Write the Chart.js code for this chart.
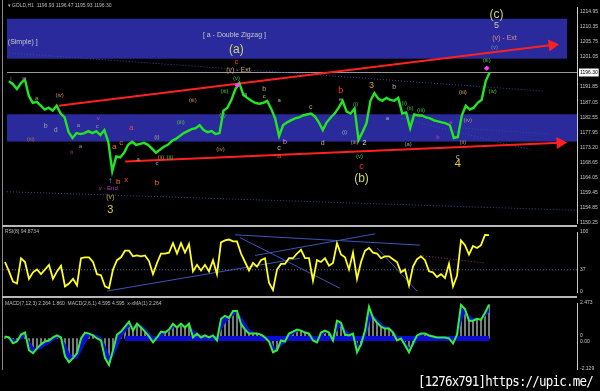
<!DOCTYPE html>
<html>
<head>
<meta charset="utf-8">
<script src="https://cdn.jsdelivr.net/npm/chart.js@4.4.1/dist/chart.umd.min.js"></script>
<style>
  html, body { margin: 0; padding: 0; background: #000; }
  #wrap { position: relative; width: 600px; height: 391px; overflow: hidden; background: #000; }
  canvas { position: absolute; left: 0; }
  .sep { position: absolute; background: #b8b8b8; }
  #mark { position: absolute; left: 418px; top: 372px; color: #fff; font: 12.5px "DejaVu Sans Mono", monospace; letter-spacing: -0.8px; white-space: nowrap; transform: scaleY(1.15); transform-origin: left top; }
</style>
</head>
<body>
<div id="wrap">
  <canvas id="mainChart" width="600" height="230" style="top:0"></canvas>
  <canvas id="rsiChart" width="600" height="72" style="top:226px"></canvas>
  <canvas id="macdChart" width="600" height="78" style="top:297px"></canvas>
  <div class="sep" style="left:2px;top:0;width:1px;height:370px;background:#8a8a8a"></div>
  <div class="sep" style="left:2px;top:225px;width:575px;height:2px"></div>
  <div class="sep" style="left:2px;top:296px;width:575px;height:2px"></div>
  <div id="mark">[1276x791]https://upic.me/</div>
</div>
<script>
// GOLD H1 closes, one per bar
var closes = [1193.60,1192.70,1191.19,1193.00,1194.20,1189.09,1186.98,1187.29,1186.08,1184.88,
  1185.48,1184.58,1186.08,1183.68,1182.47,1177.96,1176.16,1177.66,1177.36,1177.66,
  1178.26,1177.66,1178.26,1177.06,1178.57,1174.96,1165.94,1170.45,1170.15,1171.65,
  1174.05,1174.96,1174.05,1174.36,1174.66,1174.05,1172.85,1171.65,1172.55,1173.45,
  1174.05,1175.26,1175.86,1176.76,1177.66,1178.26,1178.87,1179.17,1180.07,1178.57,
  1177.96,1178.26,1177.36,1177.66,1184.58,1185.48,1187.89,1191.19,1193.00,1189.39,
  1188.49,1187.59,1186.98,1186.68,1186.98,1187.59,1185.18,1182.17,1176.76,1180.07,
  1180.97,1181.57,1182.17,1182.47,1183.08,1183.38,1183.68,1182.78,1180.97,1178.57,
  1180.97,1182.47,1183.68,1185.48,1187.59,1184.28,1183.68,1185.18,1175.56,1177.96,
  1180.67,1187.59,1189.99,1188.19,1187.59,1188.49,1187.89,1187.59,1188.49,1183.68,
  1183.98,1179.17,1183.38,1183.08,1183.08,1182.47,1182.17,1181.57,1181.27,1180.97,
  1180.67,1180.07,1176.16,1176.46,1183.08,1186.08,1184.88,1185.48,1186.98,1187.89,
  1193.60,1196.30];

var rsi = [50.0,34.4,17.2,14.1,56.3,50.0,21.9,32.8,37.5,29.7,
  37.5,45.3,21.9,34.4,43.8,9.4,14.1,21.9,10.9,56.3,
  57.8,57.8,50.0,29.7,28.1,9.4,6.3,37.5,53.1,57.8,
  68.8,68.8,59.4,60.9,59.4,60.9,51.6,29.7,48.4,64.1,
  64.1,65.6,81.3,64.1,81.3,65.6,79.7,34.4,45.3,35.9,
  45.3,34.4,53.1,29.7,82.8,85.9,87.5,84.4,84.4,64.1,
  50.0,35.9,48.4,42.2,53.1,56.3,15.6,3.1,37.5,46.9,
  46.9,56.3,56.3,64.1,70.3,56.3,56.3,18.8,53.1,50.0,
  56.3,43.8,48.4,81.3,62.5,57.8,37.5,65.6,21.9,50.0,
  68.8,73.4,65.6,64.1,56.3,59.4,59.4,54.7,50.0,32.8,
  37.5,10.9,42.2,54.7,59.4,53.1,34.4,32.8,25.0,29.7,
  23.4,46.9,9.4,26.6,85.9,78.1,62.5,76.6,73.4,78.1,
  95.3,94.9];

var macd = [0.14,0.07,-0.34,-0.21,0.27,0.41,-0.82,-1.03,-0.69,-0.41,
  -0.21,-0.14,0.07,0.21,0.07,-1.24,-1.65,-1.37,-1.03,0.00,
  0.41,0.34,0.21,0.00,-0.14,-1.37,-1.85,-0.82,0.27,0.48,
  0.82,1.17,0.55,1.03,0.76,0.48,0.14,-0.27,0.07,0.48,
  0.41,0.62,1.03,0.76,1.03,0.76,1.03,0.07,0.34,0.07,
  0.21,0.07,0.21,-0.14,1.37,1.58,1.44,1.92,1.92,1.03,
  0.62,0.34,0.34,0.34,0.27,0.07,-0.21,-0.96,-0.82,-0.14,
  -0.21,0.34,0.48,0.62,0.55,0.41,0.34,-0.14,-0.27,0.41,
  0.55,0.41,-0.14,1.24,1.10,0.27,0.21,0.34,-0.96,-0.41,
  0.55,2.20,1.44,1.10,0.82,0.69,0.69,0.41,-0.14,0.00,
  -0.48,-0.96,-0.34,0.21,0.34,0.34,0.21,0.14,0.07,0.07,
  0.07,0.00,-0.34,0.27,2.34,2.06,1.24,1.24,1.37,1.30,
  1.79,2.35];

var signal = [0.10,0.10,-0.05,-0.15,-0.05,0.15,-0.20,-0.60,-0.80,-0.70,
  -0.50,-0.35,-0.15,0.05,0.10,-0.40,-1.00,-1.35,-1.40,-0.90,
  -0.30,0.15,0.30,0.20,0.05,-0.50,-1.20,-1.30,-0.60,0.05,
  0.45,0.85,0.85,0.90,0.90,0.70,0.40,0.05,-0.05,0.15,
  0.35,0.50,0.75,0.85,0.90,0.90,0.95,0.55,0.35,0.20,
  0.20,0.15,0.15,0.05,0.60,1.10,1.35,1.60,1.80,1.50,
  1.05,0.65,0.45,0.35,0.30,0.20,0.00,-0.50,-0.80,-0.50,
  -0.30,0.05,0.30,0.50,0.55,0.50,0.40,0.10,-0.15,0.10,
  0.40,0.45,0.15,0.55,0.95,0.65,0.35,0.30,-0.35,-0.60,
  0.00,1.10,1.60,1.35,1.05,0.85,0.75,0.55,0.15,0.00,
  -0.25,-0.65,-0.55,-0.10,0.20,0.30,0.25,0.20,0.10,0.08,
  0.07,0.03,-0.15,0.00,1.20,1.80,1.60,1.40,1.35,1.30,
  1.55,1.86];

var priceTicks = [1214.95,1210.35,1205.75,1201.05,1196.30,1191.85,1187.05,1182.55,1177.95,1173.20,1168.65,1164.05,1159.45,1154.85,1150.25];
var rsiTicks = [0, 37, 100];
var macdTicks = [-2.129, 0, 2.473];

// zones and trend lines: [bar, price]
var bandUpper = [1212.85, 1200.55];
var bandUpperEnd = 140.5;
var bandLower = [1183.45, 1175.05];
var trendUpper = [[12.5, 1186.08], [136.75, 1204.73]];
var trendLower = [[29.25, 1168.94], [138.75, 1174.66]];
var dottedLines = [
  [[0, 1202.32], [134.5, 1190.59]],
  [[-0.5, 1159.62], [143, 1153.91]],
  [[98.75, 1182.18], [131.25, 1172.56]],
  [[114.25, 1179.17], [136.25, 1177.36]]
];
var rsiLines = [
  [[57.5, 95.3], [103.75, 78.1]],
  [[58.75, 90.6], [83.75, 6.3]],
  [[25.5, 1.6], [73.75, 56.3]],
  [[62.5, 60.9], [92.5, 96.9]],
  [[93, 73.4], [103, 1.6]]
];
var rsiPinkLine = [[103.75, 60.9], [120, 48.4]];
var rsiLevel = 37;
var zeroBand = [30, 121];

// wave count text: [text, bar, price, colour, size, align]
var waveLabels = [
  ['(Simple) ]', -0.3, 1205.63, '#c8c8c8', 7, 'left'],
  ['[ a - Double Zigzag ]', 56.75, 1207.73, '#c8c8c8', 7],
  ['(a)', 57.25, 1203.22, '#cdd66a', 12],
  ['c', 57.25, 1199.62, '#ff3a20', 8],
  ['(v) - Ext', 57.75, 1196.91, '#c89a6a', 7],
  ['(v)', 57.25, 1194.50, '#3cc83c', 6],
  ['(c)', 122.75, 1214.05, '#cdd66a', 12],
  ['5', 122.75, 1210.74, '#c8c8a0', 9],
  ['(v) - Ext', 124.75, 1206.83, '#d09090', 7],
  ['(v)', 122.25, 1204.12, '#4aa0b0', 6],
  ['(iii)', 120.25, 1199.91, '#3cc83c', 6],
  ['(iv)', 121.75, 1190.59, '#3cc83c', 6],
  ['(iii)', 114.25, 1190.29, '#e0a040', 6],
  ['(ii)', 114.25, 1174.66, '#c09070', 6],
  ['c', 113, 1170.45, '#b0b0b0', 8],
  ['4', 113, 1168.04, '#e8d030', 11],
  ['3', 25.5, 1153.91, '#e8d030', 11],
  ['(v)', 25.5, 1158.12, '#c8a040', 7],
  ['v - End', 25, 1160.52, '#b040c0', 6],
  ['\u2191', 25.5, 1163.0, '#40c0ff', 8],
  ['a', 26.5, 1173.45, '#ff6a20', 8],
  ['c', 28.25, 1174.66, '#ff6a20', 8],
  ['a', 30.75, 1179.17, '#ff4040', 8],
  ['b', 27.5, 1162.63, '#ff6a20', 8],
  ['x', 29.5, 1163.23, '#ff4020', 8],
  ['b', 37.25, 1162.33, '#ff6a20', 8],
  ['(iv)', 12.75, 1189.39, '#c89040', 6],
  ['(iii)', 5.5, 1175.86, '#a07050', 6],
  ['(iii)', 46.25, 1187.59, '#c89040', 6],
  ['(iv)', 53.25, 1172.55, '#c89040', 6],
  ['a', 7, 1188.49, '#a0b040', 6],
  ['b', 9.25, 1179.77, '#a0a0b0', 7],
  ['d', 11.75, 1178.57, '#a0a0b0', 7],
  ['a', 17.5, 1180.07, '#9090b0', 6],
  ['a', 18, 1173.45, '#9090b0', 6],
  ['c', 22.25, 1179.77, '#9090b0', 6],
  ['i', 0.5, 1194.50, '#c040c0', 6],
  ['w', 3.75, 1194.50, '#c040c0', 6],
  ['ii', 15.75, 1171.65, '#c040c0', 6],
  ['v', 22.5, 1182.17, '#c040c0', 6],
  ['(i)', 37.25, 1176.46, '#c0a080', 6],
  ['(ii)', 38.25, 1170.15, '#c09040', 6],
  ['(ii)', 40.5, 1170.15, '#3cc83c', 6],
  ['a', 32.5, 1169.54, '#a0a0c0', 6],
  ['c', 37.25, 1168.34, '#a0a0c0', 6],
  ['(iii)', 43.25, 1181.0, '#3cc83c', 6],
  ['(iii)', 54.25, 1190.59, '#3cc83c', 6],
  ['(ii)', 53.75, 1183.08, '#3cc83c', 6],
  ['a', 59.5, 1189.69, '#b0b0b0', 6],
  ['b', 64.25, 1191.19, '#d0a080', 7],
  ['c', 64.25, 1189.09, '#b0b0b0', 6],
  ['a', 68, 1187.59, '#b0b0b0', 6],
  ['c', 68, 1173.15, '#c0c0c0', 7],
  ['b', 69.5, 1174.96, '#c0a0d0', 7],
  ['a', 68, 1170.45, '#ff4030', 7],
  ['c', 76, 1185.78, '#b0b040', 7],
  ['d', 79, 1174.66, '#c0b060', 7],
  ['b', 83.5, 1190.89, '#ff3a20', 9],
  ['e', 83.5, 1187.89, '#b0b0b0', 6],
  ['(i)', 84.5, 1177.96, '#a0a0a0', 6],
  ['(i)', 87.25, 1186.38, '#3cc83c', 6],
  ['(iii)', 87, 1174.96, '#a0a0a0', 6],
  ['2', 89.5, 1174.66, '#e0e0e0', 7],
  ['(v)', 88.25, 1170.45, '#3cc83c', 6],
  ['c', 88.75, 1167.44, '#ff3a20', 9],
  ['(b)', 88.75, 1163.53, '#cdd66a', 12],
  ['3', 91.25, 1192.40, '#e0a030', 9],
  ['a', 95.25, 1182.17, '#b0b0b0', 6],
  ['b', 97, 1191.79, '#b0b0b0', 7],
  ['(i)', 99.5, 1186.68, '#3cc83c', 6],
  ['(ii)', 101, 1185.18, '#3cc83c', 6],
  ['(iii)', 103.75, 1184.58, '#3cc83c', 6],
  ['(a)', 100.5, 1174.05, '#a0a0a0', 6],
  ['e', 111.25, 1180.97, '#c040c0', 6],
  ['b', 108, 1176.46, '#c040c0', 6],
  ['(iv)', 115.5, 1181.57, '#c09070', 6],
  ['\u25c6', 57.5, 1192.40, '#ff40ff', 7],
  ['\u25c6', 120.25, 1197.81, '#ff40ff', 7]
];

var FONT = '"Liberation Sans", "DejaVu Sans", sans-serif';

function pts(arr) {
  return arr.map(function (p) { return { x: p[0], y: p[1] }; });
}
function series(arr) {
  return arr.map(function (v, i) { return { x: i, y: v }; });
}
function rightAxis(ticks, min, max, fmt) {
  return {
    position: 'right', min: min, max: max,
    afterFit: function (s) { s.width = 23; },
    afterBuildTicks: function (s) { s.ticks = ticks.map(function (v) { return { value: v }; }); },
    grid: { display: false, drawTicks: false },
    border: { color: '#c8c8c8' },
    ticks: {
      padding: 3, color: '#c8c8c8', font: { family: FONT, size: 5 },
      callback: fmt
    }
  };
}
function headerText(text, x, y) {
  return {
    id: 'header',
    afterDraw: function (chart) {
      var ctx = chart.ctx;
      ctx.save();
      ctx.font = '5px ' + FONT;
      ctx.fillStyle = '#bdbdbd';
      ctx.textBaseline = 'top';
      ctx.fillText(text, x, y);
      ctx.restore();
    }
  };
}
var xAxis = { type: 'linear', min: -0.5, max: 143, display: false, offset: false };
var noPlugins = { legend: { display: false }, tooltip: { enabled: false } };

var last = closes[closes.length - 1];

var zones = {
  id: 'zones',
  beforeDatasetsDraw: function (chart) {
    var ctx = chart.ctx, a = chart.chartArea, x = chart.scales.x, y = chart.scales.y;
    ctx.save();
    ctx.fillStyle = '#2a2a9c';
    var t = y.getPixelForValue(bandUpper[0]), b = y.getPixelForValue(bandUpper[1]);
    ctx.fillRect(a.left, t, x.getPixelForValue(bandUpperEnd) - a.left, b - t);
    t = y.getPixelForValue(bandLower[0]); b = y.getPixelForValue(bandLower[1]);
    ctx.fillRect(a.left, t, a.right - a.left, b - t);
    // current price line
    var py = Math.round(y.getPixelForValue(last)) + 0.5;
    ctx.strokeStyle = '#9a9a9a';
    ctx.lineWidth = 1;
    ctx.beginPath();
    ctx.moveTo(a.left, py);
    ctx.lineTo(a.right, py);
    ctx.stroke();
    ctx.restore();
  },
  afterDatasetsDraw: function (chart) {
    var ctx = chart.ctx, x = chart.scales.x, y = chart.scales.y;
    ctx.save();
    ctx.textBaseline = 'middle';
    waveLabels.forEach(function (l) {
      ctx.font = l[4] + 'px ' + FONT;
      ctx.fillStyle = l[3];
      ctx.textAlign = l[5] || 'center';
      ctx.fillText(l[0], x.getPixelForValue(l[1]), y.getPixelForValue(l[2]));
    });
    ctx.restore();
  }
};

function arrow(data, angle) {
  return {
    data: pts(data), borderColor: '#ff2020', borderWidth: 2,
    pointRadius: [0, 5], pointStyle: 'triangle', rotation: [0, angle],
    pointBackgroundColor: '#ff2020', pointBorderColor: '#ff2020'
  };
}

var mainSets = [
  {
    data: series(closes), borderColor: '#22e622', borderWidth: 2.4,
    pointRadius: 0, tension: 0
  },
  arrow(trendUpper, 83),
  arrow(trendLower, 87.5)
];
dottedLines.forEach(function (d) {
  mainSets.push({ data: pts(d), borderColor: '#2f4f9f', borderWidth: 1, borderDash: [1, 2], pointRadius: 0 });
});

new Chart(document.getElementById('mainChart'), {
  type: 'line',
  data: { datasets: mainSets },
  options: {
    responsive: false, animation: false,
    layout: { padding: { left: 3, top: 4, bottom: 5, right: 0 } },
    plugins: noPlugins,
    scales: {
      x: xAxis,
      y: Object.assign(rightAxis(priceTicks, 1150, 1216.45, function (v) { return v.toFixed(2); }), {
        ticks: {
          padding: 3, font: { family: FONT, size: 5 },
          color: function (c) { return c.tick && c.tick.value === last ? '#000' : '#c8c8c8'; },
          showLabelBackdrop: function (c) { return !!(c.tick && c.tick.value === last); },
          backdropColor: '#ffffff',
          backdropPadding: { top: 1, bottom: 1, left: 1, right: 1 },
          callback: function (v) { return v.toFixed(2); }
        }
      })
    }
  },
  plugins: [zones, headerText('\u25be GOLD,H1  1196.93 1196.47 1195.93 1196.30', 8, 3)]
});

var rsiSets = [
  { data: series(rsi), borderColor: '#ffff22', borderWidth: 1.8, pointRadius: 0, tension: 0 },
  { data: pts([[-0.5, rsiLevel], [143, rsiLevel]]), borderColor: '#5868a8', borderWidth: 1, borderDash: [1, 2], pointRadius: 0 },
  { data: pts(rsiPinkLine), borderColor: '#a03068', borderWidth: 1, borderDash: [1, 2], pointRadius: 0 }
];
rsiLines.forEach(function (d) {
  rsiSets.push({ data: pts(d), borderColor: '#3a56b8', borderWidth: 1, pointRadius: 0 });
});

new Chart(document.getElementById('rsiChart'), {
  type: 'line',
  data: { datasets: rsiSets },
  options: {
    responsive: false, animation: false,
    layout: { padding: { left: 3, top: 4, bottom: 4, right: 0 } },
    plugins: noPlugins,
    scales: {
      x: xAxis,
      y: rightAxis(rsiTicks, 0, 100, function (v) { return String(v); })
    }
  },
  plugins: [headerText('RSI(8) 94.8734', 5, 3)]
});

new Chart(document.getElementById('macdChart'), {
  type: 'bar',
  data: {
    datasets: [
      { type: 'line', data: series(macd), borderColor: '#33f033', borderWidth: 2, pointRadius: 0, order: 0 },
      { type: 'line', data: series(signal), borderColor: '#1414d0', borderWidth: 1, pointRadius: 0,
        fill: { target: 0 }, backgroundColor: '#0c0cd6', order: 2 },
      { type: 'bar', data: series(macd), backgroundColor: '#8c9898', barThickness: 1, order: 3 },
      { type: 'line', data: pts([[zeroBand[0], 0], [zeroBand[1], 0]]), borderColor: '#0c0cd6', borderWidth: 5, pointRadius: 0, order: 1 }
    ]
  },
  options: {
    responsive: false, animation: false,
    layout: { padding: { left: 3, top: 5, bottom: 6, right: 0 } },
    plugins: noPlugins,
    scales: {
      x: xAxis,
      y: rightAxis(macdTicks, -2.129, 2.473, function (v) { return v === 0 ? ['0', '0.00'] : v.toFixed(3); })
    }
  },
  plugins: [headerText('MACD(7,12,3) 2.264 1.860  MACD(2,6,1) 4.595 4.595  x-xMA(1) 2.264', 5, 4)]
});
</script>
</body>
</html>
